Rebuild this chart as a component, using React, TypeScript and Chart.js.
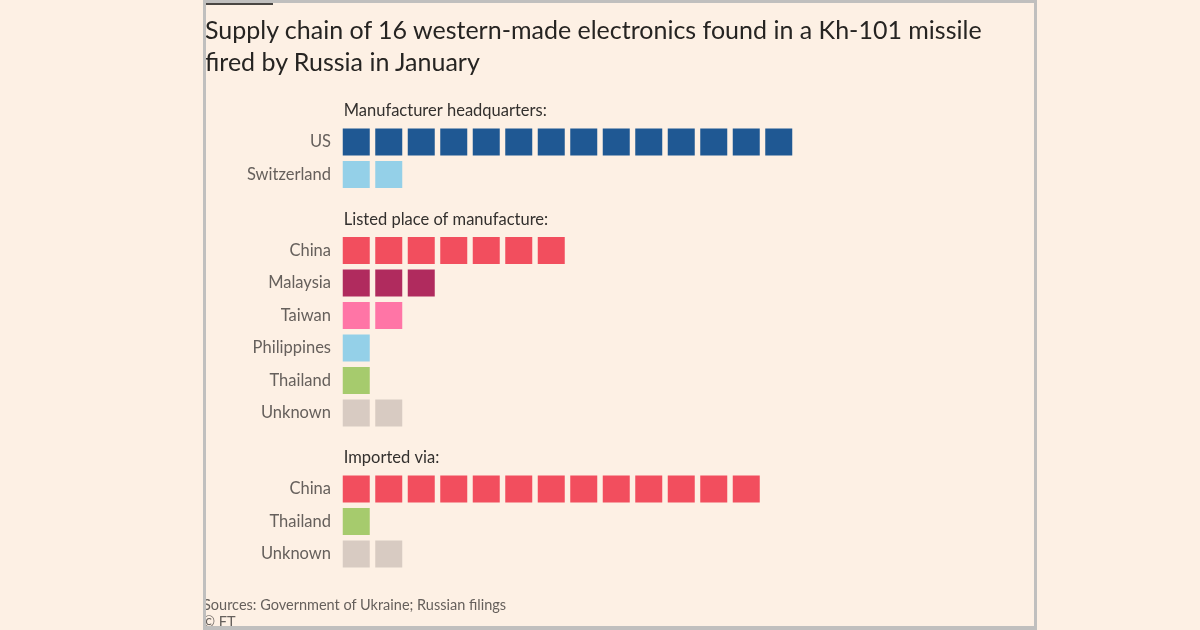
import React, { useEffect, useRef } from "react";
import { Chart, registerables } from "chart.js";

Chart.register(...registerables);

// ---- Data ----
const titleLines = [
  "Supply chain of 16 western-made electronics found in a Kh-101 missile",
  "fired by Russia in January",
];
const groupTitles = [
  "Manufacturer headquarters:",
  "Listed place of manufacture:",
  "Imported via:",
];
const hqCategories = ["US", "Switzerland"];
const hqCounts = [14, 2];
const madeCategories = ["China", "Malaysia", "Taiwan", "Philippines", "Thailand", "Unknown"];
const madeCounts = [7, 3, 2, 1, 1, 2];
const importCategories = ["China", "Thailand", "Unknown"];
const importCounts = [13, 1, 2];
const sourceText = "Sources: Government of Ukraine; Russian filings";
const creditText = "© FT";

// ---- Styles ----
const hqColors = ["#1f5893", "#94d0e8"];
const madeColors = ["#f24e5e", "#b02b5e", "#ff75a6", "#94d0e8", "#a6cb6d", "#d8cbc2"];
const importColors = ["#f24e5e", "#a6cb6d", "#d8cbc2"];
const BG = "#fdf0e4";
const FONT = "Lato, 'Noto Sans', sans-serif";
const SQUARE = 27;
const GROUP_GAP = 1.34; // extra rows between groups
const HEADER_OFFSET = -0.96;

type Row = { label: string; count: number; color: string; y: number };

function buildLayout() {
  const groups = [
    { cats: hqCategories, counts: hqCounts, colors: hqColors },
    { cats: madeCategories, counts: madeCounts, colors: madeColors },
    { cats: importCategories, counts: importCounts, colors: importColors },
  ];
  const rows: Row[] = [];
  const headers: { text: string; y: number }[] = [];
  let pos = 0;
  groups.forEach((g, gi) => {
    if (gi > 0) pos += GROUP_GAP;
    headers.push({ text: groupTitles[gi], y: pos + HEADER_OFFSET });
    g.cats.forEach((c, ci) => {
      rows.push({ label: c, count: g.counts[ci], color: g.colors[ci], y: pos });
      pos += 1;
    });
  });
  return { rows, headers };
}

export default function App() {
  const canvasRef = useRef<HTMLCanvasElement | null>(null);

  useEffect(() => {
    const canvas = canvasRef.current;
    if (!canvas) return;
    const { rows, headers } = buildLayout();

    const datasets = rows.map((r) => ({
      label: r.label,
      data: Array.from({ length: r.count }, (_, i) => ({ x: i, y: r.y })),
      backgroundColor: r.color,
      borderColor: r.color,
      borderWidth: 0,
      pointStyle: "rect" as const,
      pointRadius: SQUARE / Math.SQRT2,
      pointHoverRadius: SQUARE / Math.SQRT2,
    }));

    const headerPlugin = {
      id: "groupHeaders",
      afterDatasetsDraw(chart: any) {
        const { ctx, scales } = chart;
        const xs = scales.x;
        const ys = scales.y;
        ctx.save();
        ctx.font = `16.5px ${FONT}`;
        ctx.fillStyle = "#33302e";
        ctx.textAlign = "left";
        ctx.textBaseline = "middle";
        headers.forEach((h) => {
          ctx.fillText(h.text, xs.getPixelForValue(0) - SQUARE / 2 + 1, ys.getPixelForValue(h.y));
        });
        ctx.restore();
      },
    };

    const chart = new Chart(canvas, {
      type: "scatter",
      data: { datasets },
      options: {
        responsive: false,
        animation: false,
        events: [],
        layout: { padding: { left: 210, right: 177.5, top: 93.25, bottom: 33 } },
        plugins: {
          legend: { display: false },
          tooltip: { enabled: false },
          title: { display: false },
        },
        scales: {
          x: { type: "linear", min: -0.5, max: 20.5, display: false },
          y: {
            type: "linear",
            reverse: true,
            min: -1.5,
            max: 14,
            grid: { display: false, drawTicks: false },
            border: { display: false },
            afterFit: (s: any) => {
              s.width = 130;
            },
            afterBuildTicks: (s: any) => {
              s.ticks = rows.map((r) => ({ value: r.y }));
            },
            ticks: {
              autoSkip: false,
              padding: 9,
              color: "#66605c",
              font: { family: FONT, size: 16.5 },
              callback: (_v: any, i: number) => rows[i]?.label ?? "",
            },
          },
        },
      },
      plugins: [headerPlugin],
    } as any);

    return () => chart.destroy();
  }, []);

  const grey = "#c0bfbe";
  return (
    <div
      style={{
        position: "fixed",
        left: 0,
        top: 0,
        width: 1200,
        height: 630,
        background: BG,
        overflow: "hidden",
        fontFamily: FONT,
      }}
    >
      <canvas
        ref={canvasRef}
        width={1200}
        height={630}
        style={{ position: "absolute", left: 0, top: 0, width: 1200, height: 630 }}
      />
      <div
        style={{
          position: "absolute",
          left: 205,
          top: 14,
          fontSize: 25,
          lineHeight: "31.5px",
          color: "#262422",
          whiteSpace: "nowrap",
        }}
      >
        {titleLines.map((t, i) => (
          <div key={i}>{t}</div>
        ))}
      </div>
      <div
        style={{
          position: "absolute",
          left: 203,
          top: 596,
          fontSize: 14.5,
          lineHeight: "17px",
          color: "#66605c",
          whiteSpace: "nowrap",
        }}
      >
        <div>{sourceText}</div>
        <div>{creditText}</div>
      </div>
      {/* frame */}
      <div style={{ position: "absolute", left: 203, top: 0, width: 834, height: 3, background: grey }} />
      <div style={{ position: "absolute", left: 203, top: 0, width: 3, height: 630, background: grey }} />
      <div style={{ position: "absolute", left: 1034, top: 0, width: 3, height: 630, background: grey }} />
      <div style={{ position: "absolute", left: 203, top: 626, width: 834, height: 4, background: grey }} />
      <div style={{ position: "absolute", left: 206, top: 3, width: 67, height: 2, background: "#4a4643" }} />
    </div>
  );
}
